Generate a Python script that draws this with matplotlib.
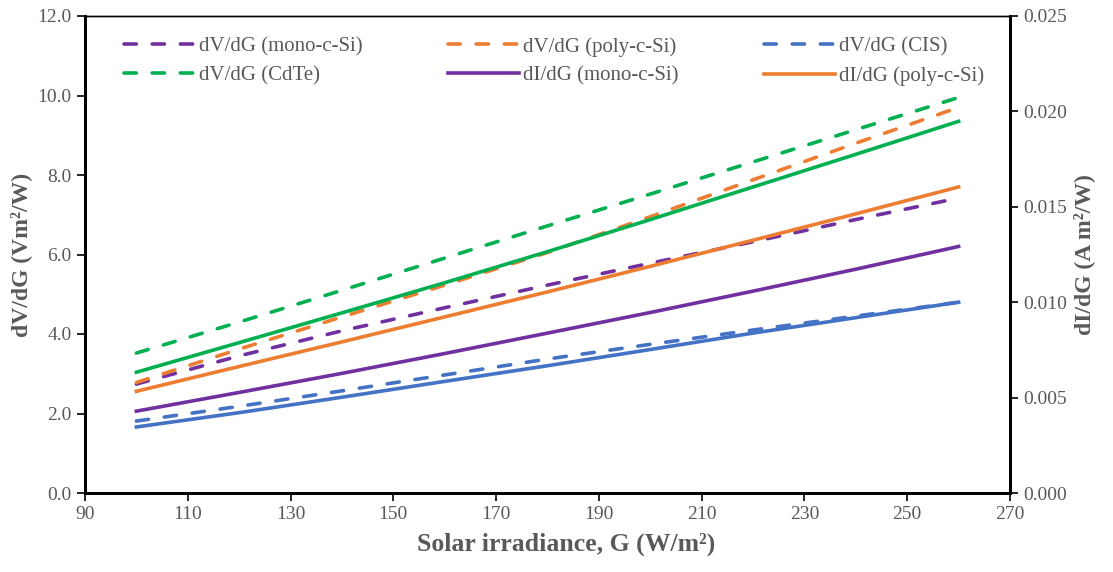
import matplotlib.pyplot as plt

# Solar irradiance G (W/m2)
irradiance = [100, 120, 140, 160, 180, 200, 220, 240, 260]

# dV/dG (V m2/W), left axis
dv_mono = [2.74, 3.45, 4.08, 4.66, 5.23, 5.78, 6.32, 6.88, 7.42]
dv_poly = [2.78, 3.62, 4.43, 5.23, 6.05, 6.95, 7.88, 8.80, 9.70]
dv_cis = [1.81, 2.18, 2.57, 2.97, 3.37, 3.74, 4.10, 4.45, 4.80]
dv_cdte = [3.52, 4.30, 5.10, 5.91, 6.72, 7.52, 8.33, 9.14, 9.95]

# dI/dG (A m2/W), right axis
di_mono = [0.00429, 0.00527, 0.00627, 0.00731, 0.00838, 0.00946, 0.01058, 0.01173, 0.01292]
di_poly = [0.00533, 0.00663, 0.00792, 0.00923, 0.01054, 0.01188, 0.01325, 0.01463, 0.01604]
di_cis = [0.00346, 0.00421, 0.00502, 0.00585, 0.00667, 0.00752, 0.00838, 0.00919, 0.01000]
di_cdte = [0.00633, 0.00788, 0.00944, 0.01102, 0.01265, 0.01433, 0.01604, 0.01775, 0.01948]

PURPLE = '#7030a0'
ORANGE = '#ed7d31'
BLUE = '#4472c4'
GREEN = '#00b050'
GREY = '#595959'

plt.rcParams['font.family'] = ['Liberation Serif', 'DejaVu Serif']

fig, ax = plt.subplots(figsize=(11.13, 5.72), dpi=100)
ax2 = ax.twinx()

dash = (0, (3.4, 4.4))
lw = 2.6
dkw = dict(lw=lw, ls=dash, dash_capstyle='round')
l1, = ax.plot(irradiance, dv_mono, color=PURPLE, label='dV/dG (mono-c-Si)', **dkw)
l2, = ax.plot(irradiance, dv_poly, color=ORANGE, label='dV/dG (poly-c-Si)', **dkw)
l3, = ax.plot(irradiance, dv_cis, color=BLUE, label='dV/dG (CIS)', **dkw)
l4, = ax.plot(irradiance, dv_cdte, color=GREEN, label='dV/dG (CdTe)', **dkw)
l5, = ax2.plot(irradiance, di_mono, color=PURPLE, lw=lw, label='dI/dG (mono-c-Si)')
l6, = ax2.plot(irradiance, di_poly, color=ORANGE, lw=lw, label='dI/dG (poly-c-Si)')
ax2.plot(irradiance, di_cis, color=BLUE, lw=lw)
ax2.plot(irradiance, di_cdte, color=GREEN, lw=lw)

ax.set_xlim(90, 270)
ax.set_xticks(range(90, 271, 20))
ax.set_ylim(0, 12)
ax.set_yticks([0, 2, 4, 6, 8, 10, 12])
ax.set_yticklabels([f'{v:.1f}' for v in ax.get_yticks()])
ax2.set_ylim(0, 0.025)
ax2.set_yticks([0, 0.005, 0.010, 0.015, 0.020, 0.025])
ax2.set_yticklabels([f'{v:.3f}' for v in ax2.get_yticks()])

for a in (ax, ax2):
    a.tick_params(direction='out', length=6, width=1.2, labelsize=14, labelcolor=GREY, color='black')
    for side in ('left', 'right', 'bottom'):
        a.spines[side].set_linewidth(2)
    a.spines['top'].set_linewidth(1)

ax.set_xlabel('Solar irradiance, G (W/m²)', fontsize=18.5, fontweight='bold', color=GREY)
ax.xaxis.set_label_coords(0.52, -0.082)
ax.set_ylabel('dV/dG (Vm²/W)', fontsize=17, fontweight='bold', color=GREY)
ax2.set_ylabel('dI/dG (A m²/W)', fontsize=17, fontweight='bold', color=GREY)

# legend filled column by column, so order handles to read row by row
handles = [l1, l4, l2, l5, l3, l6]
leg = ax.legend(handles=handles, ncol=3, loc='upper left',
                bbox_to_anchor=(124 / 1113, 1 - 37 / 572), bbox_transform=fig.transFigure,
                frameon=False, fontsize=15, borderpad=0, borderaxespad=0,
                handlelength=3.4, handletextpad=0.2, columnspacing=4.1, labelspacing=0.45)
for t in leg.get_texts():
    t.set_color(GREY)

fig.subplots_adjust(left=85 / 1113, right=1010 / 1113, top=1 - 16 / 572, bottom=1 - 493 / 572)
fig.savefig('out.png', dpi=100)
